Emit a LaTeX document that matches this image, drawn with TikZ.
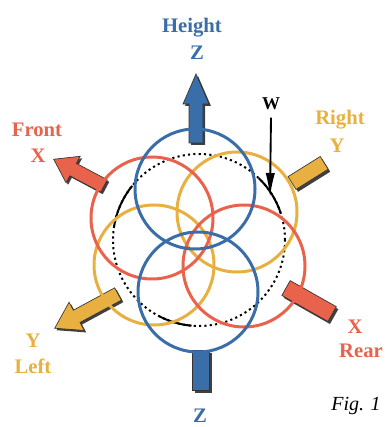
\documentclass[tikz,border=0pt]{standalone}
\usepackage{xcolor}
\usepackage{fontspec}
\setmainfont{Liberation Serif}
\usetikzlibrary{arrows.meta}

\definecolor{axblue}{HTML}{3A6EA8}
\definecolor{axred}{HTML}{E8624C}
\definecolor{axyellow}{HTML}{E8B040}

% block arrow: colour, tail, angle, length, head length, half head width
\newcommand{\blockhead}[6]{%
  \fill[black!75, shift={#2}, shift={(2,2)}, rotate=#3]
    (0,-7) -- (#4-#5,-7) -- (#4-#5,-#6) -- (#4,0) -- (#4-#5,#6) -- (#4-#5,7) -- (0,7) -- cycle;
  \filldraw[fill=#1, draw=black!80, line width=0.5pt, shift={#2}, rotate=#3]
    (0,-7) -- (#4-#5,-7) -- (#4-#5,-#6) -- (#4,0) -- (#4-#5,#6) -- (#4-#5,7) -- (0,7) -- cycle;
}
% block bar: colour, tail, angle, length, half width
\newcommand{\blockbar}[5]{%
  \fill[black!75, shift={#2}, shift={(2,2.5)}, rotate=#3]
    (0,-#5) rectangle (#4,#5);
  \filldraw[fill=#1, draw=black!80, line width=0.5pt, shift={#2}, rotate=#3]
    (0,-#5) rectangle (#4,#5);
}

\begin{document}
\begin{tikzpicture}[x=0.75pt, y=-0.75pt,
  ring/.style={draw=#1, circle, line width=2.25pt, minimum size=90pt, inner sep=0pt},
  refring/.style={draw=black, circle, line width=1.5pt, dash pattern=on 1.6pt off 2.4pt,
    minimum size=129pt, inner sep=0pt},
  lab/.style={font=\fontsize{15.5}{18}\selectfont\bfseries, anchor=base, inner sep=0pt},
  warr/.style={-{Latex[length=18pt,width=7pt]}, line width=1.4pt}
]
\useasboundingbox (0,0) rectangle (385,427);

% axis blocks
\blockhead{axblue}{(196,143)}{90}{69}{30}{13}
\blockhead{axred}{(104,186)}{152}{57}{22}{15}
\blockhead{axyellow}{(118,294)}{208.4}{72}{25}{16}
\blockbar{axyellow}{(292,183)}{32}{38}{7.5}
\blockbar{axred}{(286,288)}{-29.5}{53}{8.5}
\blockbar{axblue}{(201,350)}{-90}{40}{8.5}

% reference circle
\node[refring] (ref) at (199,240) {};
\draw[line width=1.5pt] (ref.center) ++(-46:86) arc[start angle=-46, end angle=-18, radius=86];
\draw[line width=1.5pt] (ref.center) ++(-171:86) arc[start angle=-171, end angle=-141, radius=86];
\draw[line width=1.5pt] (ref.center) ++(95:86) arc[start angle=95, end angle=118, radius=86];

% rings
\node[ring=axyellow] (yright) at (237,212) {};
\node[ring=axyellow] (yleft) at (154,265) {};
\node[ring=axred, minimum size=91.5pt] (xfront) at (152,218) {};
\node[ring=axred, minimum size=91.5pt] (xrear) at (244,266) {};
\node[ring=axblue] (ztop) at (195,189) {};
\node[ring=axblue] (zbot) at (198,292) {};

% labels
\node[lab, text=axblue] (height) at (192,33) {Height};
\node[lab, text=axblue] (zup) at (197,60) {Z};
\node[lab, text=axred] (front) at (37,137) {Front};
\node[lab, text=axred] (xf) at (38,163) {X};
\node[lab, text=axyellow] (right) at (340,125) {Right};
\node[lab, text=axyellow] (yr) at (337,153) {Y};
\node[lab, text=axyellow] (yl) at (33,347) {Y};
\node[lab, text=axyellow] (left) at (33,373) {Left};
\node[lab, text=axred] (xr) at (355,333) {X};
\node[lab, text=axred] (rear) at (361,357) {Rear};
\node[lab, text=axblue] (zdown) at (200,422) {Z};
\node[font=\fontsize{15}{18}\selectfont\itshape, anchor=base, inner sep=0pt] (fig) at (356,410) {Fig. 1};

% load
\node[lab, font=\fontsize{13.5}{16}\selectfont\bfseries] (w) at (271,110) {W};
\coordinate (wtip) at (270,197);
\draw[warr] (w.south) ++(0,7) -- (wtip);
\end{tikzpicture}
\end{document}
